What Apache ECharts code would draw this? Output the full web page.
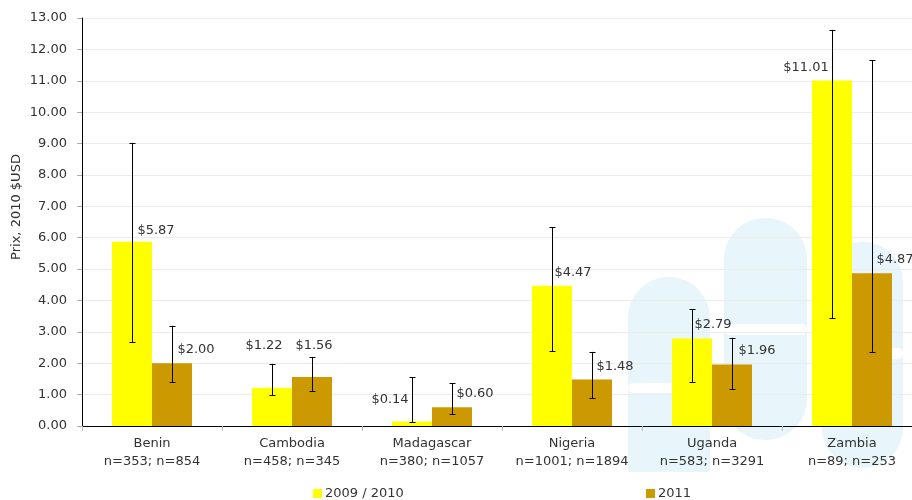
<!DOCTYPE html>
<html>
<head>
<meta charset="utf-8">
<script src="https://cdn.jsdelivr.net/npm/echarts@6/dist/echarts.min.js"></script>
<style>html,body{margin:0;padding:0;background:#fff;overflow:hidden;width:912px;height:500px}#c{width:930px;height:500px}</style>
</head>
<body>
<div id="c"></div>
<script>
const categories = ['Benin', 'Cambodia', 'Madagascar', 'Nigeria', 'Uganda', 'Zambia'];
const sampleSizes = ['n=353; n=854', 'n=458; n=345', 'n=380; n=1057', 'n=1001; n=1894', 'n=583; n=3291', 'n=89; n=253'];
const seriesNames = ['2009 / 2010', '2011'];
const values2010 = [5.87, 1.22, 0.14, 4.47, 2.79, 11.01];
const values2011 = [2.00, 1.56, 0.60, 1.48, 1.96, 4.87];
const low2010 = [2.68, 0.99, 0.13, 2.39, 1.40, 3.44];
const high2010 = [9.02, 1.98, 1.56, 6.34, 3.72, 12.62];
const low2011 = [1.40, 1.12, 0.38, 0.89, 1.18, 2.36];
const high2011 = [3.19, 2.20, 1.37, 2.36, 2.81, 11.66];
const yTicks = [0, 1, 2, 3, 4, 5, 6, 7, 8, 9, 10, 11, 12, 13];

// label nudges (style only)
const nudge2010 = [[24, 0], [-8, -31], [-22, -10], [21, -2], [21, -2], [-26, -1]];
const nudge2011 = [[24, -2], [2, -20], [23, -2], [23, -1], [25, -2], [23, -2]];

const FONT = 'DejaVu Sans';
const TXT = '#333333';
const BAR_W = 40;

const chart = echarts.init(document.getElementById('c'), null, {renderer: 'canvas'});

function barData(vals, nudges) {
  return vals.map((v, i) => ({value: v, label: {offset: nudges[i]}}));
}
function errData(lo, hi) {
  return lo.map((l, i) => [i, l, hi[i]]);
}
function errRender(shift) {
  return function (params, api) {
    const i = api.value(0);
    const pLo = api.coord([i, api.value(1)]);
    const pHi = api.coord([i, api.value(2)]);
    const x = Math.round(pLo[0] + shift) + 0.5;
    const cap = 3;
    const st = {stroke: '#000', lineWidth: 1};
    return {
      type: 'group',
      children: [
        {type: 'line', shape: {x1: x, y1: pHi[1], x2: x, y2: pLo[1]}, style: st},
        {type: 'line', shape: {x1: x - cap, y1: Math.round(pHi[1]) + 0.5, x2: x + cap, y2: Math.round(pHi[1]) + 0.5}, style: st},
        {type: 'line', shape: {x1: x - cap, y1: Math.round(pLo[1]) + 0.5, x2: x + cap, y2: Math.round(pLo[1]) + 0.5}, style: st}
      ]
    };
  };
}

const WM = '#e8f5fa';
const legendCommon = {padding: 0, icon: 'rect', itemWidth: 9, itemHeight: 9, itemGap: 0, top: 487,
  textStyle: {fontFamily: FONT, fontSize: 13, color: TXT, padding: [0, 0, 0, -2]}};
chart.setOption({
  animation: false,
  grid: {left: 82, top: 18, width: 840, height: 408, containLabel: false},
  legend: [
    Object.assign({data: [seriesNames[0]], left: 313}, legendCommon),
    Object.assign({data: [seriesNames[1]], left: 646}, legendCommon)
  ],
  graphic: [
    {type: 'rect', z: -10, shape: {x: 628, y: 277, width: 82, height: 195, r: [41, 41, 0, 0]}, style: {fill: WM}},
    {type: 'rect', z: -10, shape: {x: 724, y: 218, width: 83, height: 222, r: 41}, style: {fill: WM}},
    {type: 'rect', z: -10, shape: {x: 822, y: 242, width: 81, height: 226, r: 40}, style: {fill: WM}},
    {type: 'rect', z: -9, shape: {x: 628, y: 383, width: 60, height: 10, r: 5}, style: {fill: '#fff'}},
    {type: 'rect', z: -9, shape: {x: 724, y: 324, width: 83, height: 11, r: 5}, style: {fill: '#fff'}},
    {type: 'rect', z: -9, shape: {x: 850, y: 348, width: 53, height: 11, r: 5}, style: {fill: '#fff'}},
    {type: 'text', x: 17, y: 207, rotation: Math.PI / 2,
     style: {text: 'Prix, 2010 $USD', fontFamily: FONT, fontSize: 13, fill: TXT, align: 'center', verticalAlign: 'middle'}}
  ],
  xAxis: {
    type: 'category',
    data: categories,
    axisLine: {show: true, lineStyle: {color: '#000', width: 1}},
    axisTick: {show: true, length: 5, lineStyle: {color: '#bbbbbb'}},
    axisLabel: {
      interval: 0, margin: 9, fontFamily: FONT, fontSize: 13, color: TXT, lineHeight: 18,
      formatter: (v, i) => v + '\n' + sampleSizes[i]
    },
    splitLine: {show: false}
  },
  yAxis: {
    type: 'value',
    min: yTicks[0], max: yTicks[yTicks.length - 1], interval: 1,
    axisLine: {show: true, lineStyle: {color: '#000', width: 1}},
    axisTick: {show: true, length: 5, lineStyle: {color: '#aaaaaa'}},
    axisLabel: {margin: 15, fontFamily: FONT, fontSize: 13, color: TXT, formatter: v => v.toFixed(2)},
    splitLine: {show: true, lineStyle: {color: '#ececec', width: 1}}
  },
  series: [
    {name: seriesNames[0], type: 'bar', barWidth: BAR_W, barGap: '0%', itemStyle: {color: '#ffff00'},
     data: barData(values2010, nudge2010),
     label: {show: true, position: 'top', distance: 5, fontFamily: FONT, fontSize: 13, color: TXT,
             formatter: p => '$' + p.value.toFixed(2)}},
    {name: seriesNames[1], type: 'bar', barWidth: BAR_W, barGap: '0%', itemStyle: {color: '#cc9900'},
     data: barData(values2011, nudge2011),
     label: {show: true, position: 'top', distance: 5, fontFamily: FONT, fontSize: 13, color: TXT,
             formatter: p => '$' + p.value.toFixed(2)}},
    {type: 'custom', z: 5, silent: true, renderItem: errRender(-BAR_W / 2),
     encode: {x: 0, y: [1, 2]}, data: errData(low2010, high2010)},
    {type: 'custom', z: 5, silent: true, renderItem: errRender(BAR_W / 2),
     encode: {x: 0, y: [1, 2]}, data: errData(low2011, high2011)}
  ]
});
</script>
</body>
</html>
